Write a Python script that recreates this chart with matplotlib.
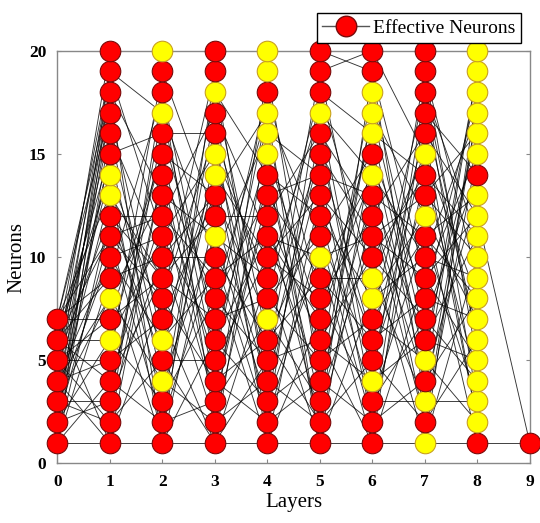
import matplotlib
matplotlib.use("Agg")
import matplotlib.pyplot as plt
from matplotlib.lines import Line2D

plt.rcParams['font.family'] = ['Liberation Serif', 'DejaVu Serif']

# network layout: number of neurons per layer
layers = [0, 1, 2, 3, 4, 5, 6, 7, 8, 9]
layer_sizes = [7, 20, 20, 20, 20, 20, 20, 20, 20, 1]

# neurons that are not effective (drawn yellow) in each layer
yellow_neurons = [
    [],
    [6, 8, 13, 14],
    [4, 6, 17, 20],
    [11, 14, 15, 18],
    [7, 15, 16, 17, 19, 20],
    [10, 17],
    [4, 8, 9, 14, 16, 17, 18],
    [1, 3, 5, 12, 15],
    [2, 3, 4, 5, 6, 7, 8, 9, 10, 11, 12, 13, 15, 16, 17, 18, 19, 20],
    [],
]

# connections (source neuron, target neuron) between consecutive layers
edges_01 = [(1, 1), (1, 4), (1, 9), (1, 12), (1, 16), (2, 3), (2, 6), (2, 11), (2, 15), (2, 19),
            (3, 2), (3, 3), (3, 8), (3, 13), (3, 18), (4, 1), (4, 5), (4, 10), (4, 14), (4, 17),
            (4, 19), (5, 2), (5, 7), (5, 12), (5, 16), (5, 18), (6, 4), (6, 6), (6, 11), (6, 15),
            (6, 19), (7, 1), (7, 7), (7, 9), (7, 13), (7, 17), (7, 18), (5, 20), (3, 10),
            (1, 18), (2, 17), (6, 14), (7, 11), (4, 8), (5, 5), (3, 15), (6, 9)]
edges_12 = [(1, 1), (1, 8), (1, 14), (2, 5), (2, 18), (3, 10), (3, 17), (4, 2), (4, 12), (5, 7),
            (5, 19), (6, 3), (6, 11), (7, 9), (7, 15), (8, 4), (8, 13), (9, 1), (9, 10), (10, 6),
            (10, 11), (11, 2), (11, 8), (12, 5), (12, 12), (13, 9), (13, 3), (14, 7), (15, 16),
            (15, 4), (16, 10), (17, 6), (18, 13), (18, 1), (19, 11), (19, 17), (20, 20), (3, 16),
            (2, 14), (4, 9), (6, 15), (9, 18), (11, 12), (14, 1), (16, 5), (12, 9)]
edges_23 = [(1, 1), (1, 6), (1, 12), (1, 19), (2, 3), (2, 15), (3, 8), (3, 17), (4, 2), (4, 11),
            (5, 5), (5, 18), (6, 9), (6, 14), (7, 1), (7, 13), (8, 4), (8, 16), (9, 7), (9, 12),
            (10, 2), (10, 10), (11, 6), (11, 15), (12, 3), (12, 9), (13, 5), (13, 11), (14, 8),
            (15, 4), (15, 13), (16, 16), (16, 7), (17, 10), (18, 6), (18, 2), (19, 12), (20, 20),
            (2, 10), (3, 14), (5, 1), (8, 19), (10, 13), (12, 17), (14, 3), (17, 5)]
edges_34 = [(1, 1), (1, 9), (1, 16), (2, 4), (2, 19), (3, 7), (3, 14), (4, 2), (4, 12), (5, 10),
            (5, 17), (6, 3), (6, 15), (7, 8), (7, 18), (8, 5), (8, 13), (9, 1), (9, 11), (10, 6),
            (10, 16), (11, 3), (11, 9), (12, 12), (12, 4), (13, 7), (14, 2), (14, 10), (15, 5),
            (16, 8), (16, 1), (17, 11), (18, 6), (18, 14), (19, 3), (20, 20), (13, 17),
            (2, 13), (4, 6), (6, 11), (8, 17), (10, 2), (15, 9), (17, 4), (1, 5)]
edges_45 = [(1, 1), (1, 7), (1, 13), (2, 4), (2, 18), (3, 10), (3, 16), (4, 2), (4, 14), (5, 6),
            (5, 19), (6, 9), (6, 12), (7, 3), (7, 15), (8, 5), (8, 11), (9, 1), (9, 17), (10, 8),
            (10, 13), (11, 4), (11, 10), (12, 6), (12, 2), (13, 9), (14, 3), (14, 12), (15, 7),
            (16, 14), (16, 5), (17, 11), (17, 1), (18, 8), (19, 4), (20, 20), (12, 16),
            (2, 11), (3, 5), (5, 15), (6, 2), (8, 18), (11, 7), (13, 14), (15, 1)]
edges_56 = [(1, 1), (1, 8), (1, 15), (2, 5), (2, 19), (3, 11), (3, 17), (4, 2), (4, 13), (5, 7),
            (5, 18), (6, 4), (6, 10), (7, 14), (7, 16), (8, 3), (8, 12), (9, 6), (9, 9), (10, 1),
            (10, 11), (11, 5), (11, 15), (12, 8), (12, 3), (13, 10), (14, 2), (14, 13), (15, 6),
            (16, 12), (17, 4), (17, 14), (18, 9), (18, 16), (19, 7), (19, 20), (20, 19), (20, 20),
            (2, 12), (4, 17), (6, 1), (9, 14), (11, 2), (13, 6), (15, 11), (16, 3)]
edges_67 = [(1, 1), (1, 9), (1, 17), (2, 4), (2, 14), (3, 3), (3, 11), (4, 6), (4, 19), (5, 2),
            (5, 13), (6, 8), (6, 16), (7, 5), (7, 18), (8, 10), (8, 12), (9, 3), (9, 15), (10, 7),
            (10, 1), (11, 9), (11, 13), (12, 4), (12, 16), (13, 6), (13, 11), (14, 2), (14, 10),
            (15, 8), (16, 5), (16, 14), (17, 12), (18, 7), (19, 3), (19, 9), (20, 20), (20, 15),
            (2, 18), (3, 7), (5, 15), (7, 11), (10, 14), (12, 2), (15, 4), (17, 6)]
edges_78 = [(1, 1), (1, 10), (1, 18), (2, 6), (2, 15), (3, 3), (3, 17), (4, 8), (4, 13), (5, 2),
            (5, 19), (6, 11), (6, 16), (7, 4), (7, 14), (8, 7), (8, 18), (9, 5), (9, 12), (10, 9),
            (10, 17), (11, 3), (11, 13), (12, 7), (12, 1), (13, 10), (13, 16), (14, 4), (15, 8),
            (16, 2), (16, 12), (17, 6), (18, 11), (18, 3), (19, 9), (19, 5), (20, 20), (17, 14),
            (2, 17), (4, 19), (6, 5), (9, 15), (11, 8), (14, 11), (15, 2), (18, 6)]
edges_89 = [(1, 1), (12, 1)]
edges = [edges_01, edges_12, edges_23, edges_34, edges_45, edges_56, edges_67, edges_78, edges_89]

red = '#ff0000'
red_edge = '#7a0a0a'
yellow = '#ffff00'
yellow_edge = '#c8a020'

fig = plt.figure(figsize=(5.40, 5.23), dpi=100)
ax = fig.add_axes([0.106, 0.114, 0.875, 0.789])

# connections first so the neurons sit on top
for i, layer_edges in enumerate(edges):
    for src, dst in layer_edges:
        ax.plot([layers[i], layers[i + 1]], [src, dst], color='k', lw=0.65, alpha=0.8, zorder=1)

for x, size, yl in zip(layers, layer_sizes, yellow_neurons):
    for n in range(1, size + 1):
        is_yellow = n in yl
        ax.plot(x, n, 'o', markersize=14.8,
                markerfacecolor=yellow if is_yellow else red,
                markeredgecolor=yellow_edge if is_yellow else red_edge,
                markeredgewidth=0.8, zorder=3, clip_on=False)

ax.set_xlim(0, 9)
ax.set_ylim(0, 20)
ax.set_xticks(layers)
ax.set_yticks([0, 5, 10, 15, 20])
ax.tick_params(direction='in', length=3, color='#888888', right=True, labelsize=12.5, pad=8)
for lbl in ax.get_xticklabels() + ax.get_yticklabels():
    lbl.set_fontweight('bold')
for sp in ax.spines.values():
    sp.set_color('#888888')
    sp.set_linewidth(1.0)
ax.set_xlabel('Layers', fontsize=15, labelpad=2)
ax.set_ylabel('Neurons', fontsize=15, labelpad=2)

handle = Line2D([], [], color='#555555', lw=1.0, marker='o', markersize=14.8,
                markerfacecolor=red, markeredgecolor=red_edge)
leg = fig.legend([handle], ['Effective Neurons'], loc='upper right',
                 bbox_to_anchor=(0.983, 0.993), fontsize=14, fancybox=False,
                 edgecolor='k', framealpha=1, borderpad=0.3, handlelength=2.4,
                 handletextpad=0.2)
leg.get_frame().set_linewidth(1.0)

fig.savefig('out.png', dpi=100)
